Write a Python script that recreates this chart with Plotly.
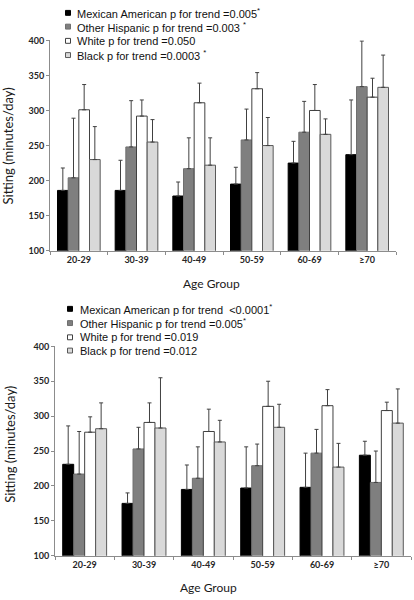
import plotly.graph_objects as go

categories = ["20-29", "30-39", "40-49", "50-59", "60-69", "≥70"]
series_names = ["Mexican American", "Other Hispanic", "White", "Black"]

# Top panel: means and upper error amounts (minutes/day)
top_ma = [186, 186, 178, 195, 225, 237]
top_ma_err = [32, 43, 20, 24, 31, 78]
top_oh = [204, 248, 217, 258, 269, 334]
top_oh_err = [85, 66, 44, 44, 44, 65]
top_w = [301, 292, 311, 331, 300, 319]
top_w_err = [36, 23, 28, 23, 37, 27]
top_b = [230, 255, 222, 250, 266, 333]
top_b_err = [47, 32, 39, 40, 22, 46]

# Bottom panel
bot_ma = [231, 175, 195, 197, 198, 244]
bot_ma_err = [55, 15, 35, 59, 49, 20]
bot_oh = [217, 253, 211, 229, 247, 205]
bot_oh_err = [61, 31, 45, 31, 34, 45]
bot_w = [277, 291, 278, 314, 315, 308]
bot_w_err = [22, 28, 32, 36, 23, 12]
bot_b = [282, 283, 263, 284, 227, 290]
bot_b_err = [37, 72, 31, 33, 34, 49]

top_legend = [
    "Mexican American p for trend =0.005<sup>*</sup>",
    "Other Hispanic p for trend =0.003 <sup>*</sup>",
    "White p for trend =0.050",
    "Black p for trend =0.0003 <sup>*</sup>",
]
bot_legend = [
    "Mexican American p for trend &nbsp;<0.0001<sup>*</sup>",
    "Other Hispanic p for trend =0.005<sup>*</sup>",
    "White p for trend =0.019",
    "Black p for trend =0.012",
]

fills = ["#000000", "#7f7f7f", "#ffffff", "#d9d9d9"]
edges = ["#000000", "#6f6f6f", "#404040", "#595959"]

W, H = 414, 600
fig = go.Figure()

top_sets = [(top_ma, top_ma_err), (top_oh, top_oh_err), (top_w, top_w_err), (top_b, top_b_err)]
bot_sets = [(bot_ma, bot_ma_err), (bot_oh, bot_oh_err), (bot_w, bot_w_err), (bot_b, bot_b_err)]

for i, (vals, errs) in enumerate(top_sets):
    fig.add_trace(go.Bar(
        x=categories, y=vals, name=series_names[i], xaxis="x", yaxis="y",
        marker=dict(color=fills[i], line=dict(color=edges[i], width=1)),
        error_y=dict(type="data", array=errs, arrayminus=[0] * len(errs), symmetric=False,
                     color="#404040", thickness=1, width=2),
        showlegend=False,
    ))
for i, (vals, errs) in enumerate(bot_sets):
    fig.add_trace(go.Bar(
        x=categories, y=vals, name=series_names[i], xaxis="x2", yaxis="y2",
        marker=dict(color=fills[i], line=dict(color=edges[i], width=1)),
        error_y=dict(type="data", array=errs, arrayminus=[0] * len(errs), symmetric=False,
                     color="#404040", thickness=1, width=2),
        showlegend=False,
    ))

tickfont = dict(family="Lato, Carlito, sans-serif", size=9, color="#262626", weight=700)
axis_common = dict(showgrid=False, zeroline=False, showline=True, linecolor="#8c8c8c",
                   linewidth=1, ticks="outside", ticklen=3, tickcolor="#8c8c8c",
                   tickfont=tickfont)

fig.update_layout(
    width=W, height=H,
    margin=dict(l=0, r=0, t=0, b=0),
    paper_bgcolor="white", plot_bgcolor="white",
    barmode="group", bargap=0.26, bargroupgap=0,
    xaxis=dict(domain=[50 / W, 396 / W], anchor="y", type="category",
               tickson="boundaries", **axis_common),
    yaxis=dict(domain=[1 - 249.3 / H, 1 - 35 / H], anchor="x", range=[100, 400],
               tickvals=[100, 150, 200, 250, 300, 350, 400], **axis_common),
    xaxis2=dict(domain=[55 / W, 411 / W], anchor="y2", type="category",
                tickson="boundaries", **axis_common),
    yaxis2=dict(domain=[1 - 560 / H, 1 - 346.7 / H], anchor="x2", range=[100, 400],
                tickvals=[100, 150, 200, 250, 300, 350, 400], **axis_common),
)

annotations = []
shapes = []
leg_font = dict(family="Arial, Liberation Sans, sans-serif", size=11, color="#111111")

def add_legend(texts, rows_y, text_x, mark_x):
    for i, t in enumerate(texts):
        py = rows_y[i]
        annotations.append(dict(
            text=t, xref="paper", yref="paper", x=text_x / W, y=1 - py / H,
            xanchor="left", yanchor="middle", showarrow=False, font=leg_font,
        ))
        s = 2.5
        shapes.append(dict(
            type="rect", xref="paper", yref="paper",
            x0=(mark_x - s) / W, x1=(mark_x + s) / W,
            y0=1 - (py + s) / H, y1=1 - (py - s) / H,
            fillcolor=fills[i], line=dict(color=edges[i], width=1),
        ))

add_legend(top_legend, [7, 21, 35.5, 50], 75, 68)
add_legend(bot_legend, [308.5, 323, 337.5, 351], 78, 70)

title_font = dict(family="Lato, Carlito, sans-serif", size=12, color="#1a1a1a")
ytitle_font = dict(family="Lato, Carlito, sans-serif", size=13, color="#1a1a1a")
annotations += [
    dict(text="Sitting (minutes/day)", xref="paper", yref="paper", x=8 / W, y=1 - 143 / H,
         textangle=-90, showarrow=False, xanchor="center", yanchor="middle", font=ytitle_font),
    dict(text="Age Group", xref="paper", yref="paper", x=211 / W, y=1 - 283 / H,
         showarrow=False, xanchor="center", yanchor="middle", font=title_font),
    dict(text="Sitting (minutes/day)", xref="paper", yref="paper", x=10 / W, y=1 - 447 / H,
         textangle=-90, showarrow=False, xanchor="center", yanchor="middle", font=ytitle_font),
    dict(text="Age Group", xref="paper", yref="paper", x=208 / W, y=1 - 592 / H,
         showarrow=False, xanchor="center", yanchor="middle", font=title_font),
]

fig.update_layout(annotations=annotations, shapes=shapes)
fig.write_html("out.html", config={"displayModeBar": False},
               post_script="document.body.style.margin='0';document.body.style.overflow='hidden';")
